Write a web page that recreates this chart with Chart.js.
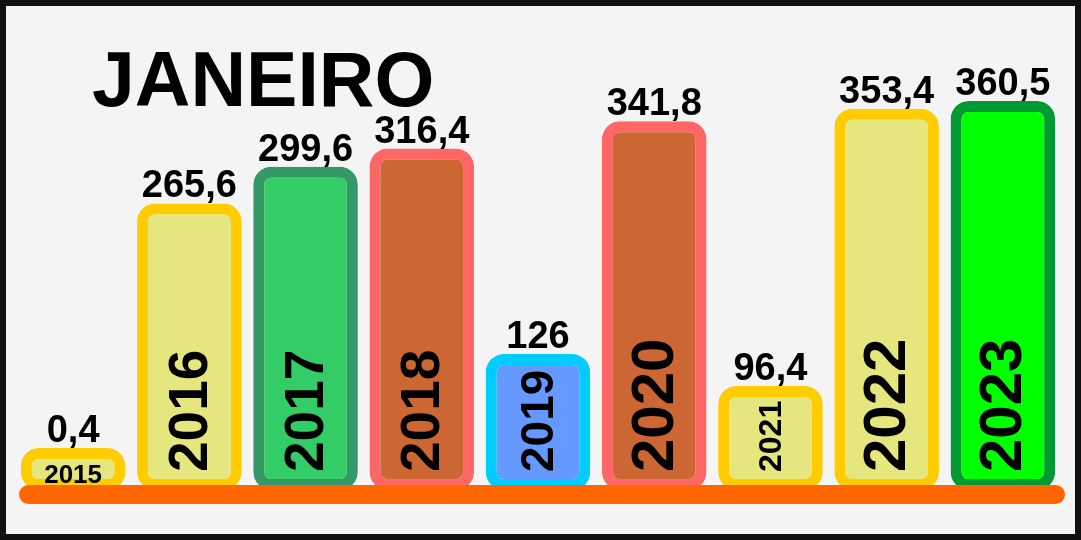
<!DOCTYPE html>
<html lang="pt-BR">
<head>
<meta charset="UTF-8">
<title>Janeiro</title>
<style>
    * {
        margin: 0;
        padding: 0;
        box-sizing: border-box;
    }

    body {
        width: 1081px;
        height: 540px;
        overflow: hidden;
        background: #f4f4f4;
    }

    .frame {
        width: 1081px;
        height: 540px;
        border: 6px solid #111;
        background: #f4f4f4;
    }

    .container {
        position: relative;
        width: 1069px;
        height: 528px;
    }
</style>
</head>
<body>
<div class="frame">
    <div class="container">
        <canvas id="chart"></canvas>
    </div>
</div>

<script src="https://cdn.jsdelivr.net/npm/chart.js@4.4.1/dist/chart.umd.min.js"></script>
<script>
    // Chart data
    const title = "JANEIRO";
    const years = ["2015", "2016", "2017", "2018", "2019", "2020", "2021", "2022", "2023"];
    const values = [0.4, 265.6, 299.6, 316.4, 126, 341.8, 96.4, 353.4, 360.5];

    // Bar colours
    const fillColors = ["#e6e67e", "#e6e67e", "#33cc66", "#cc6633", "#6699ff", "#cc6633", "#e6e67e", "#e6e67e", "#00ff00"];
    const borderColors = ["#ffcc00", "#ffcc00", "#339966", "#ff6666", "#00ccff", "#ff6666", "#ffcc00", "#ffcc00", "#009933"];

    // Size of the year written inside each bar (2015 is written flat)
    const yearFontSizes = [26, 55, 55, 55, 46, 60, 32, 60, 60];

    const FONT = '"Liberation Sans", Arial, sans-serif';

    // Title, year labels, orange base line and value labels
    const decorations = {
        id: "decorations",
        afterDatasetsDraw(chart) {
            const ctx = chart.ctx;
            const area = chart.chartArea;
            const bars = chart.getDatasetMeta(0).data;

            ctx.save();
            ctx.fillStyle = "#000";

            // title
            ctx.font = "bold 77px " + FONT;
            ctx.textAlign = "left";
            ctx.textBaseline = "alphabetic";
            ctx.fillText(title, 86, 100);

            // years inside the bars
            bars.forEach((bar, i) => {
                ctx.font = "bold " + yearFontSizes[i] + "px " + FONT;
                if (i === 0) {
                    ctx.textAlign = "center";
                    ctx.textBaseline = "alphabetic";
                    ctx.fillText(years[i], bar.x, area.bottom - 7);
                } else {
                    ctx.save();
                    ctx.translate(bar.x + 2, area.bottom - 18);
                    ctx.rotate(-Math.PI / 2);
                    ctx.textAlign = "left";
                    ctx.textBaseline = "middle";
                    ctx.fillText(years[i], 0, 0);
                    ctx.restore();
                }
            });

            // orange base line
            ctx.strokeStyle = "#ff6600";
            ctx.lineWidth = 19;
            ctx.lineCap = "round";
            ctx.beginPath();
            ctx.moveTo(area.left + 13.5, area.bottom + 4.5);
            ctx.lineTo(area.right - 5.5, area.bottom + 4.5);
            ctx.stroke();

            // values above the bars
            ctx.fillStyle = "#000";
            ctx.font = "bold 38px " + FONT;
            ctx.textAlign = "center";
            ctx.textBaseline = "alphabetic";
            bars.forEach((bar, i) => {
                ctx.fillText(String(values[i]).replace(".", ","), bar.x, bar.y - 6);
            });

            ctx.restore();
        }
    };

    new Chart(document.getElementById("chart"), {
        type: "bar",
        data: {
            labels: years,
            datasets: [{
                data: values,
                backgroundColor: fillColors,
                borderColor: borderColors,
                borderWidth: 11,
                borderRadius: 18,
                borderSkipped: false,
                barPercentage: 0.9,
                categoryPercentage: 1,
                minBarLength: 42
            }]
        },
        options: {
            responsive: true,
            maintainAspectRatio: false,
            animation: false,
            layout: {
                padding: { left: 9, right: 14, top: 20, bottom: 44 }
            },
            scales: {
                x: { display: false },
                y: { display: false, min: 0, max: 430 }
            },
            plugins: {
                legend: { display: false },
                tooltip: { enabled: false },
                title: { display: false }
            }
        },
        plugins: [decorations]
    });
</script>
</body>
</html>
